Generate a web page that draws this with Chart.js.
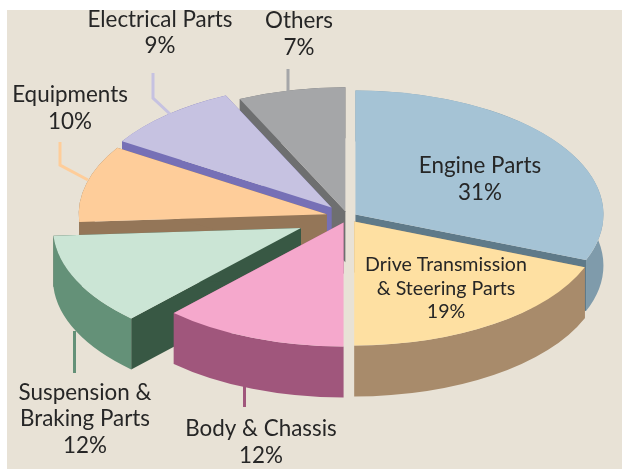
<!DOCTYPE html>
<html>
<head>
<meta charset="utf-8">
<style>
  html, body { margin: 0; padding: 0; background: #fff; }
  canvas { display: block; }
</style>
</head>
<body>
<canvas id="pie-chart" width="622" height="469"></canvas>
<script src="https://cdn.jsdelivr.net/npm/chart.js@4"></script>
<script>
const categories = ['Engine Parts', 'Drive Transmission & Steering Parts', 'Body & Chassis',
    'Suspension & Braking Parts', 'Equipments', 'Electrical Parts', 'Others'];
const shares = [31, 19, 12, 12, 10, 9, 7];

// colours per slice: top face, rim, cut side
const topColors = ['#a5c3d5', '#fee0a2', '#f5a8cc', '#cbe5d5', '#fecd9a', '#c6c2e1', '#a5a6a8'];
const rimColors = ['#7f9bab', '#a88b6b', '#a0567c', '#649178', '#947658', '#7670b6', '#6e6f70'];
const cutColors = ['#5f7a89', '#a88b6b', '#a0567c', '#385844', '#947658', '#7670b6', '#6e6f70'];

// how far each slice is pulled out, and back-to-front paint order
const explode = [9, 11, 12, 52, 22, 25, 12];
const paintOrder = [6, 5, 4, 0, 3, 1, 2];

// fake 3d view
const pieCenter = { x: 348, y: 217 };
const squash = 0.5;
const depth = 51;

const labelFont = '"Lato", sans-serif';
const labelRows = [
    { text: 'Electrical Parts', x: 160, y: 27, size: 22.4 },
    { text: '9%', x: 160, y: 53, size: 22.4 },
    { text: 'Others', x: 299, y: 28, size: 22.4 },
    { text: '7%', x: 299, y: 55, size: 22.4 },
    { text: 'Equipments', x: 70, y: 102, size: 22.4 },
    { text: '10%', x: 70, y: 129, size: 22.4 },
    { text: 'Engine Parts', x: 480, y: 173, size: 22.4 },
    { text: '31%', x: 480, y: 200, size: 22.4 },
    { text: 'Drive Transmission', x: 446, y: 271, size: 19.6 },
    { text: '& Steering Parts', x: 446, y: 295, size: 19.6 },
    { text: '19%', x: 446, y: 318, size: 19.6 },
    { text: 'Suspension &', x: 85, y: 400, size: 22.4 },
    { text: 'Braking Parts', x: 85, y: 426, size: 22.4 },
    { text: '12%', x: 85, y: 453, size: 22.4 },
    { text: 'Body & Chassis', x: 261, y: 436, size: 22.4 },
    { text: '12%', x: 261, y: 463, size: 22.4 }
];

// leader lines from label to slice
const leaders = [
    { slice: 5, points: [[153, 73], [153, 98], [170, 114]] },
    { slice: 4, points: [[60, 142], [60, 165], [88, 180]] },
    { slice: 6, points: [[288, 69], [288, 93]] },
    { slice: 3, points: [[74.5, 331], [74.5, 373]] },
    { slice: 2, points: [[244.5, 384], [244.5, 407]] }
];

function drawSide(ctx, arc, index) {
    const r = arc.outerRadius;
    const d = depth / squash;

    ctx.fillStyle = cutColors[index];
    [arc.startAngle, arc.endAngle].forEach(function (angle) {
        const px = arc.x + Math.cos(angle) * r;
        const py = arc.y + Math.sin(angle) * r;
        ctx.beginPath();
        ctx.moveTo(arc.x, arc.y);
        ctx.lineTo(px, py);
        ctx.lineTo(px, py + d);
        ctx.lineTo(arc.x, arc.y + d);
        ctx.closePath();
        ctx.fill();
    });

    ctx.fillStyle = rimColors[index];
    ctx.beginPath();
    ctx.arc(arc.x, arc.y + d, r, arc.startAngle, arc.endAngle);
    ctx.arc(arc.x, arc.y, r, arc.endAngle, arc.startAngle, true);
    ctx.closePath();
    ctx.fill();
}

const piePlugin = {
    id: 'pie3d',
    beforeDraw(chart) {
        const ctx = chart.ctx;
        ctx.save();
        ctx.fillStyle = '#e8e2d6';
        ctx.fillRect(7, 10, chart.width - 7, chart.height - 10);
        ctx.restore();
    },
    // slices are painted here so the walls and tops stack in the right order
    beforeDatasetsDraw(chart) {
        const ctx = chart.ctx;
        const arcs = chart.getDatasetMeta(0).data;
        paintOrder.forEach(function (i) {
            const arc = arcs[i];
            const mid = (arc.startAngle + arc.endAngle) / 2;
            ctx.save();
            ctx.translate(pieCenter.x, pieCenter.y);
            ctx.scale(1, squash);
            ctx.translate(-arc.x + Math.cos(mid) * explode[i], -arc.y + Math.sin(mid) * explode[i]);
            drawSide(ctx, arc, i);
            arc.draw(ctx);
            ctx.restore();
        });
        return false;
    },
    afterDraw(chart) {
        const ctx = chart.ctx;
        ctx.save();
        ctx.lineWidth = 3;
        leaders.forEach(function (line) {
            ctx.strokeStyle = line.slice === 2 || line.slice === 3 ? rimColors[line.slice] : topColors[line.slice];
            ctx.beginPath();
            line.points.forEach(function (p, n) {
                if (n === 0) ctx.moveTo(p[0], p[1]);
                else ctx.lineTo(p[0], p[1]);
            });
            ctx.stroke();
        });
        ctx.fillStyle = '#262626';
        ctx.textAlign = 'center';
        ctx.textBaseline = 'alphabetic';
        labelRows.forEach(function (row) {
            ctx.font = row.size + 'px ' + labelFont;
            ctx.fillText(row.text, row.x, row.y);
        });
        ctx.restore();
    }
};

new Chart(document.getElementById('pie-chart'), {
    type: 'pie',
    data: {
        labels: categories,
        datasets: [{
            data: shares,
            backgroundColor: topColors,
            borderWidth: 0
        }]
    },
    options: {
        responsive: false,
        animation: false,
        radius: 248,
        plugins: {
            legend: { display: false },
            tooltip: { enabled: false }
        }
    },
    plugins: [piePlugin]
});
</script>
</body>
</html>
